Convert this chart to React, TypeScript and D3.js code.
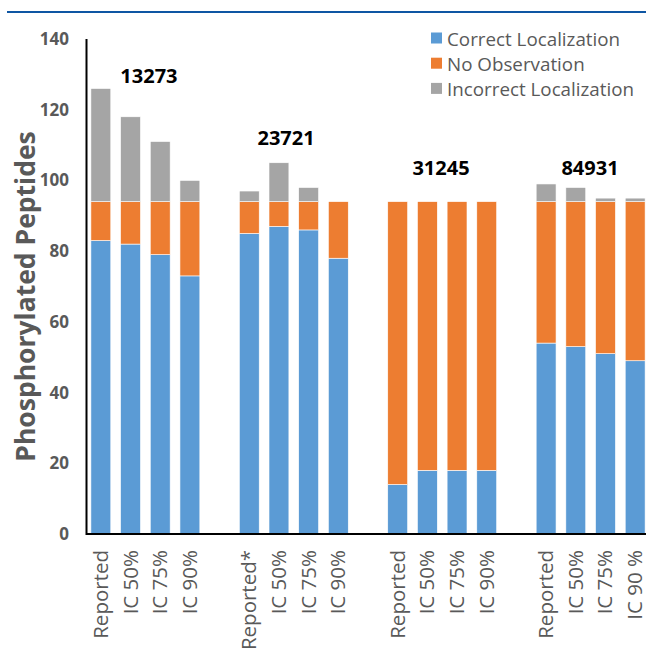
import React from "react";
import * as d3 from "d3";

const groups = ["13273", "23721", "31245", "84931"];
const categories = [
  ["Reported", "IC 50%", "IC 75%", "IC 90%"],
  ["Reported*", "IC 50%", "IC 75%", "IC 90%"],
  ["Reported", "IC 50%", "IC 75%", "IC 90%"],
  ["Reported", "IC 50%", "IC 75%", "IC 90 %"],
];
const correct = [83, 82, 79, 73, 85, 87, 86, 78, 14, 18, 18, 18, 54, 53, 51, 49];
const noObservation = [11, 12, 15, 21, 9, 7, 8, 16, 80, 76, 76, 76, 40, 41, 43, 45];
const incorrect = [32, 24, 17, 6, 3, 11, 4, 0, 0, 0, 0, 0, 5, 4, 1, 1];
const seriesNames = ["Correct Localization", "No Observation", "Incorrect Localization"];
const colors = ["#5B9BD5", "#ED7D31", "#A5A5A5"];
const yTicks = [0, 20, 40, 60, 80, 100, 120, 140];
// group annotation positions (slot units, data units)
const groupLabelSlot = [2.12, 6.74, 11.96, 16.98];
const groupLabelValue = [127.5, 110, 101.5, 101.5];

const W = 646;
const H = 650;
const left = 86;
const right = 650;
const top = 39;
const bottom = 534;

export default function App() {
  const slots: { key: string; label: string; idx: number }[] = [];
  let idx = 0;
  groups.forEach((g, gi) => {
    categories[gi].forEach((c, ci) => {
      slots.push({ key: `${g}-${ci}`, label: c, idx: idx++ });
    });
    if (gi < groups.length - 1) slots.push({ key: `blank-${gi}`, label: "", idx: -1 });
  });
  const barSlots = slots.filter((s) => s.idx >= 0);

  const x = d3
    .scaleBand<string>()
    .domain(slots.map((s) => s.key))
    .range([left, right])
    .paddingInner(0.33)
    .paddingOuter(0.165);
  const slotPos = d3.scaleLinear().domain([0, slots.length]).range([left, right]);
  const y = d3.scaleLinear().domain([0, 140]).range([bottom, top]);

  const rows = barSlots.map((s) => ({
    key: s.key,
    label: s.label,
    v: [correct[s.idx], noObservation[s.idx], incorrect[s.idx]],
  }));
  const stack = d3
    .stack<any, number>()
    .keys([0, 1, 2])
    .value((d: any, k: number) => d.v[k]);
  const stacked = stack(rows as any);

  const textGray = "#595959";
  const font = "'Open Sans', sans-serif";

  return (
    <svg
      width={W}
      height={H}
      style={{ position: "absolute", left: 0, top: 0, background: "#fff" }}
      fontFamily={font}
    >
      <line x1={7} x2={W} y1={12} y2={12} stroke="#0E56A3" strokeWidth={2.2} />

      {stacked.map((layer, li) => (
        <g key={li} fill={colors[li]}>
          {layer.map((d: any, i: number) => {
            const h = y(d[0]) - y(d[1]);
            if (h <= 0) return null;
            return (
              <rect
                key={i}
                x={x(rows[i].key)}
                y={y(d[1])}
                width={x.bandwidth()}
                height={h}
                stroke="#fff"
                strokeWidth={0.6}
              />
            );
          })}
        </g>
      ))}

      <line x1={left + 0.5} x2={left + 0.5} y1={top} y2={bottom + 1} stroke="#000" strokeWidth={2} />
      <line x1={left} x2={W} y1={bottom} y2={bottom} stroke="#000" strokeWidth={2} />

      {yTicks.map((t) => (
        <text
          key={t}
          x={69}
          y={y(t)}
          dy="0.35em"
          textAnchor="end"
          fontSize={17}
          fontWeight="bold"
          fill={textGray}
        >
          {t}
        </text>
      ))}

      <text
        transform={`translate(35, ${(top + bottom) / 2 + 10}) rotate(-90)`}
        textAnchor="middle"
        fontSize={26.5}
        fontWeight="bold"
        fill={textGray}
      >
        Phosphorylated Peptides
      </text>

      {rows.map((r) => {
        const cx = (x(r.key) as number) + x.bandwidth() / 2;
        return (
          <text
            key={r.key}
            transform={`translate(${cx + 7}, 550) rotate(-90)`}
            textAnchor="end"
            fontSize={20.5}
            fill={textGray}
          >
            {r.label}
          </text>
        );
      })}

      {groups.map((g, gi) => (
        <text
          key={g}
          x={slotPos(groupLabelSlot[gi])}
          y={y(groupLabelValue[gi])}
          textAnchor="middle"
          fontSize={20}
          fontWeight="bold"
          fill="#000"
        >
          {g}
        </text>
      ))}

      {seriesNames.map((n, i) => (
        <g key={n} transform={`translate(431, ${45.5 + i * 25.2})`}>
          <rect x={0} y={-13} width={11} height={11} fill={colors[i]} />
          <text x={16} y={0} fontSize={18.8} fill={textGray}>
            {n}
          </text>
        </g>
      ))}
    </svg>
  );
}
